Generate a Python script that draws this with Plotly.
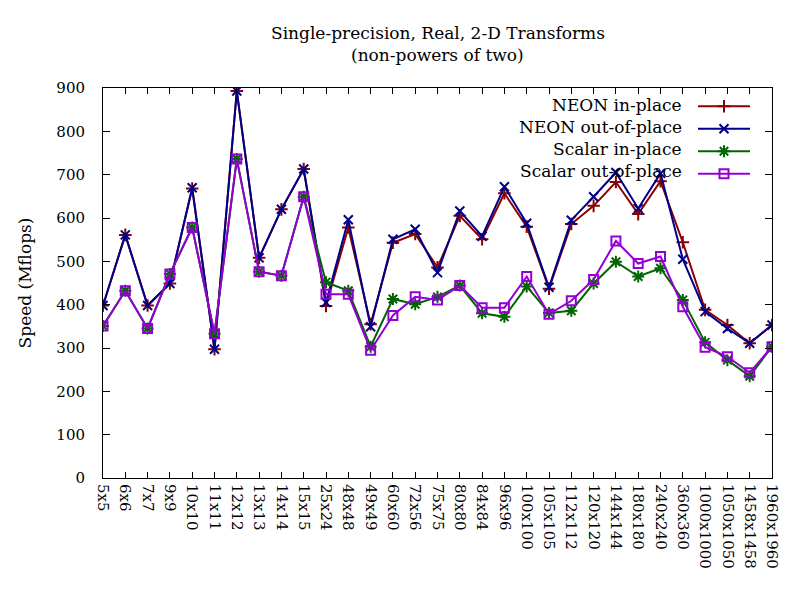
import plotly.graph_objects as go

categories = ["5x5", "6x6", "7x7", "9x9", "10x10", "11x11", "12x12", "13x13", "14x14", "15x15",
              "25x24", "48x48", "49x49", "60x60", "72x56", "75x75", "80x80", "84x84", "96x96",
              "100x100", "105x105", "112x112", "120x120", "144x144", "180x180", "240x240",
              "360x360", "1000x1000", "1050x1050", "1458x1458", "1960x1960"]

neon_in_place = [398, 561, 398, 449, 668, 297, 893, 508, 620, 713,
                 397, 578, 355, 543, 563, 486, 605, 551, 657, 580,
                 437, 586, 628, 683, 609, 685, 544, 388, 353, 311, 353]
neon_out_of_place = [398, 561, 398, 449, 670, 297, 893, 508, 620, 713,
                     405, 596, 349, 551, 574, 474, 616, 558, 672, 588,
                     440, 595, 649, 705, 622, 703, 505, 384, 345, 311, 353]
scalar_in_place = [351, 432, 345, 471, 578, 333, 736, 476, 467, 649,
                   452, 432, 303, 413, 401, 418, 444, 380, 372, 442,
                   381, 386, 449, 499, 465, 484, 411, 313, 272, 235, 303]
scalar_out_of_place = [351, 432, 345, 471, 578, 333, 736, 476, 467, 649,
                       424, 424, 295, 375, 418, 411, 444, 393, 393, 465,
                       378, 409, 458, 547, 495, 511, 395, 302, 280, 243, 303]

series_names = ["NEON in-place", "NEON out-of-place", "Scalar in-place", "Scalar out-of-place"]
y_ticks = [0, 100, 200, 300, 400, 500, 600, 700, 800, 900]

FONT = "DejaVu Serif"
series = [neon_in_place, neon_out_of_place, scalar_in_place, scalar_out_of_place]
colors = ["#8b0000", "#00008b", "#006400", "#9400d3"]
symbols = ["cross-thin-open", "x-thin-open", "asterisk-open", "square-open"]
msizes = [9, 9, 10, 9]

fig = go.Figure()
for name, vals, col, sym, ms in zip(series_names, series, colors, symbols, msizes):
    fig.add_trace(go.Scatter(
        x=categories, y=vals, mode="lines+markers", name="",
        meta=name, hovertemplate="%{meta}<br>%{x}: %{y}<extra></extra>",
        line=dict(color=col, width=2),
        marker=dict(symbol=sym, size=ms, color=col, line=dict(color=col, width=2)),
    ))

# plot area in page pixels: x 103..772, y 88..478
legend_y = [105, 126.7, 149.3, 170.7]
annotations = []
for name, py in zip(series_names, legend_y):
    annotations.append(dict(
        text=name, xref="paper", yref="paper", x=(684 - 103) / 669, y=(478 - py) / 390,
        xanchor="right", yanchor="middle", showarrow=False,
        font=dict(family=FONT, size=17, color="black")))
annotations.append(dict(text="Single-precision, Real, 2-D Transforms", xref="paper", yref="paper",
                        x=0.5, y=(478 - 33) / 390, xanchor="center", yanchor="middle",
                        showarrow=False, font=dict(family=FONT, size=17, color="black")))
annotations.append(dict(text="(non-powers of two)", xref="paper", yref="paper",
                        x=0.5, y=(478 - 55) / 390, xanchor="center", yanchor="middle",
                        showarrow=False, font=dict(family=FONT, size=17, color="black")))

fig.update_layout(
    width=792, height=592,
    margin=dict(l=95, r=28, t=80, b=122),
    paper_bgcolor="white", plot_bgcolor="white",
    font=dict(family=FONT, size=15, color="black"),
    showlegend=True,
    legend=dict(x=(693 - 103) / 669, y=(478 - 90) / 390, xanchor="left", yanchor="top",
                bgcolor="rgba(0,0,0,0)", font=dict(family=FONT, size=15), itemwidth=52,
                tracegroupgap=0),
    annotations=annotations,
    xaxis=dict(type="category", range=[0, len(categories) - 1], tickangle=90,
               ticks="inside", ticklen=6, tickcolor="black", showline=True, linecolor="black",
               linewidth=1, mirror="ticks", showgrid=False, zeroline=False,
               tickfont=dict(family=FONT, size=15), ticklabelstandoff=2),
    yaxis=dict(range=[0, 900], tickvals=y_ticks, ticks="inside", ticklen=7, tickcolor="black",
               showline=True, linecolor="black", linewidth=1, mirror="ticks", showgrid=False,
               zeroline=False, tickfont=dict(family=FONT, size=15), ticklabelstandoff=14,
               title=dict(text="Speed (Mflops)", font=dict(family=FONT, size=17), standoff=20)),
)

fig.write_html("out.html")
